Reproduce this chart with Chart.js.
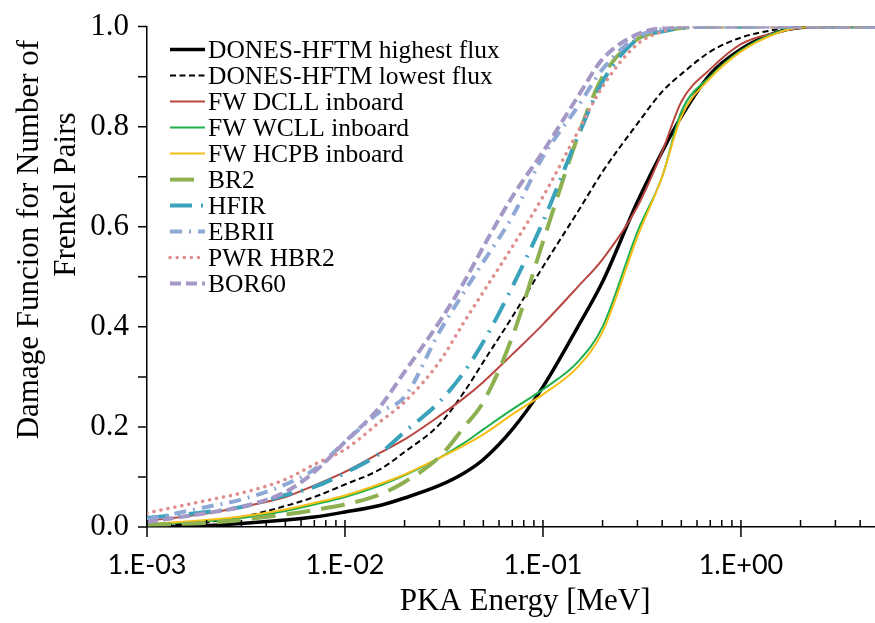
<!DOCTYPE html>
<html><head><meta charset="utf-8">
<script src="https://cdn.jsdelivr.net/npm/chart.js@4.4.1/dist/chart.umd.min.js"></script>
<style>html,body{margin:0;padding:0;background:#fff;overflow:hidden;}#wrap{width:875px;height:623px;overflow:hidden;}</style>
</head><body><div id="wrap"><canvas id="c" width="907" height="623"></canvas></div>
<script>
// PKA energy grid [MeV]
const energies = [0.001,0.002,0.003,0.005,0.007,0.01,0.015,0.02,0.03,0.04,0.05,0.07,0.1,0.15,0.2,0.3,0.4,0.5,0.7,1.0,1.5,2,3,6];
// Series values (damage function, cumulative)
const donesHighest = [0.0,0.003,0.007,0.014,0.02,0.03,0.043,0.058,0.083,0.108,0.135,0.195,0.28,0.40,0.49,0.65,0.75,0.82,0.905,0.955,0.988,0.998,1.0,1.0];
const donesLowest  = [0.002,0.01,0.02,0.042,0.06,0.085,0.115,0.15,0.205,0.27,0.33,0.42,0.52,0.63,0.71,0.806,0.87,0.905,0.95,0.978,0.994,1.0,1.0,1.0];
const fwDCLL = [0.012,0.027,0.04,0.06,0.083,0.11,0.148,0.175,0.222,0.258,0.29,0.345,0.405,0.48,0.535,0.64,0.75,0.85,0.915,0.965,0.988,0.997,1.0,1.0];
const fwWCLL = [0.005,0.012,0.018,0.032,0.045,0.06,0.083,0.103,0.138,0.168,0.195,0.235,0.275,0.33,0.40,0.59,0.70,0.83,0.90,0.952,0.988,0.998,1.0,1.0];
const fwHCPB = [0.006,0.014,0.021,0.035,0.048,0.063,0.086,0.105,0.138,0.163,0.185,0.225,0.265,0.32,0.39,0.58,0.70,0.82,0.897,0.95,0.986,0.998,1.0,1.0];
const br2    = [0.005,0.008,0.014,0.025,0.034,0.045,0.065,0.09,0.14,0.2,0.25,0.38,0.57,0.78,0.90,0.975,0.99,0.997,1.0,1.0,1.0,1.0,1.0,1.0];
const hfir   = [0.018,0.03,0.04,0.064,0.08,0.108,0.147,0.19,0.25,0.31,0.37,0.48,0.61,0.78,0.89,0.975,0.99,0.997,1.0,1.0,1.0,1.0,1.0,1.0];
const ebrii  = [0.015,0.04,0.055,0.085,0.115,0.17,0.23,0.26,0.39,0.47,0.53,0.62,0.74,0.84,0.915,0.98,0.995,1.0,1.0,1.0,1.0,1.0,1.0,1.0];
const pwrHBR2= [0.028,0.053,0.068,0.095,0.125,0.155,0.21,0.25,0.33,0.41,0.47,0.56,0.66,0.79,0.88,0.965,0.99,1.0,1.0,1.0,1.0,1.0,1.0,1.0];
const bor60  = [0.01,0.028,0.04,0.07,0.11,0.17,0.24,0.31,0.41,0.49,0.56,0.66,0.75,0.86,0.935,0.985,0.997,1.0,1.0,1.0,1.0,1.0,1.0,1.0];

const seriesNames = ['DONES-HFTM highest flux','DONES-HFTM lowest flux','FW DCLL inboard','FW WCLL inboard','FW HCPB inboard','BR2','HFIR','EBRII','PWR HBR2','BOR60'];
const xTickValues = [0.001,0.01,0.1,1];
const xTickLabels = ['1.E-03','1.E-02','1.E-01','1.E+00'];
const yTickLabels = ['0.0','0.2','0.4','0.6','0.8','1.0'];
const xTitle = 'PKA Energy [MeV]';
const yTitleLines = ['Damage Funcion for Number of','Frenkel Pairs'];

const seriesValues = [donesHighest,donesLowest,fwDCLL,fwWCLL,fwHCPB,br2,hfir,ebrii,pwrHBR2,bor60];
const styles = [
  {c:'#000000', w:3.5, d:[]},
  {c:'#000000', w:2, d:[6,3.5]},
  {c:'#b9463f', w:2, d:[]},
  {c:'#1db04c', w:2, d:[]},
  {c:'#f7be17', w:2, d:[]},
  {c:'#8db150', w:4, d:[24,11]},
  {c:'#3ba2bb', w:4, d:[22,9,2,9]},
  {c:'#8fa9d6', w:4, d:[12,7,2,7]},
  {c:'#de8f8d', w:3.5, d:[0.1,7], cap:'round'},
  {c:'#a597c6', w:4, d:[11,5]}
];

const datasets = seriesNames.map((name,k)=>({
  label: name,
  data: energies.map((e,i)=>({x:e, y:seriesValues[k][i]})),
  borderColor: styles[k].c,
  backgroundColor: styles[k].c,
  borderWidth: styles[k].w,
  borderDash: styles[k].d,
  borderCapStyle: styles[k].cap || 'butt',
  pointRadius: 0,
  fill: false,
  cubicInterpolationMode: 'monotone',
  order: -k
}));

const tickMarks = {
  id: 'tickMarks',
  afterDraw(chart){
    const {ctx, chartArea:a, scales:{x,y}} = chart;
    ctx.save();
    ctx.strokeStyle = '#000'; ctx.lineWidth = 1.5;
    ctx.beginPath();
    x.ticks.forEach(t=>{
      const px = x.getPixelForValue(t.value);
      const major = xTickValues.some(v=>Math.abs(v-t.value)/v<1e-6);
      if (major){ ctx.moveTo(px,a.bottom-7); ctx.lineTo(px,a.bottom+10); }
      else { ctx.moveTo(px,a.bottom-7); ctx.lineTo(px,a.bottom); }
    });
    y.ticks.forEach(t=>{
      const py = y.getPixelForValue(t.value);
      ctx.moveTo(a.left-9,py); ctx.lineTo(a.left,py);
    });
    ctx.stroke();
    ctx.restore();
  }
};

const yAxisTitle = {
  id: 'yAxisTitle',
  afterDraw(chart){
    const ctx = chart.ctx, a = chart.chartArea;
    ctx.save();
    ctx.font = '31px "Liberation Serif"';
    ctx.fillStyle = '#000';
    ctx.textAlign = 'center';
    ctx.textBaseline = 'middle';
    const pos = [[30, a.top+213],[67, a.top+168]];
    yTitleLines.forEach((line,i)=>{
      ctx.save();
      ctx.translate(pos[i][0], pos[i][1]);
      ctx.rotate(-Math.PI/2);
      ctx.fillText(line, 0, 0);
      ctx.restore();
    });
    ctx.restore();
  }
};

const insideLegend = {
  id: 'insideLegend',
  afterDraw(chart){
    const ctx = chart.ctx;
    const a = chart.chartArea;
    const x0 = a.left+23, x1 = a.left+58, tx = a.left+61, y0 = a.top+23, dy = 26;
    ctx.save();
    ctx.font = '25.5px "Liberation Serif"';
    ctx.textBaseline = 'alphabetic';
    chart.data.datasets.forEach((ds,i)=>{
      const yy = y0 + i*dy;
      ctx.beginPath();
      ctx.setLineDash(ds.borderDash);
      ctx.lineCap = ds.borderCapStyle;
      ctx.lineWidth = ds.borderWidth;
      ctx.strokeStyle = ds.borderColor;
      ctx.moveTo(x0,yy); ctx.lineTo(x1,yy); ctx.stroke();
      ctx.setLineDash([]);
      ctx.fillStyle = '#000';
      ctx.fillText(ds.label, tx, yy+8);
    });
    ctx.restore();
  }
};

new Chart(document.getElementById('c'), {
  type: 'line',
  data: { datasets },
  plugins: [tickMarks, yAxisTitle, insideLegend],
  options: {
    responsive: false,
    devicePixelRatio: 1,
    animation: false,
    layout: { padding: { left: 0, top: 22, right: 0, bottom: 0 } },
    plugins: { legend: { display: false }, tooltip: { enabled: false } },
    scales: {
      x: {
        type: 'logarithmic',
        min: 0.001, max: 6.6,
        afterBuildTicks(scale){
          const t = [];
          for (let d=-3; d<=0; d++) for (let m=1; m<=9; m++){ const v = m*Math.pow(10,d); if (v<=scale.max) t.push({value:v}); }
          scale.ticks = t;
        },
        afterFit(scale){ scale.height = 96; },
        grid: { display: true, drawOnChartArea: false, drawTicks: true, tickLength: 10, color: 'rgba(0,0,0,0)' },
        border: { display: true, color: '#000', width: 1.5 },
        ticks: {
          autoSkip: false, maxRotation: 0, minRotation: 0, padding: 12,
          color: '#000', font: { family: 'Lato', size: 27 },
          callback(value){ const i = xTickValues.findIndex(v=>Math.abs(v-value)/v<1e-6); return i>=0 ? xTickLabels[i] : ''; }
        },
        title: { display: true, text: xTitle, color: '#000', font: { family: 'Liberation Serif', size: 31 }, padding: { top: 0, bottom: 3 } }
      },
      y: {
        type: 'linear', min: 0, max: 1,
        afterFit(scale){ scale.width = 147; },
        grid: { display: true, drawOnChartArea: false, drawTicks: true, tickLength: 10, color: 'rgba(0,0,0,0)' },
        border: { display: true, color: '#000', width: 1.5 },
        ticks: {
          stepSize: 0.1, autoSkip: false, padding: 8, color: '#000',
          font: { family: 'Liberation Serif', size: 31 },
          callback(value, index){ return index%2===0 ? yTickLabels[index/2] : ''; }
        }
      }
    }
  }
});
</script>
</body></html>
